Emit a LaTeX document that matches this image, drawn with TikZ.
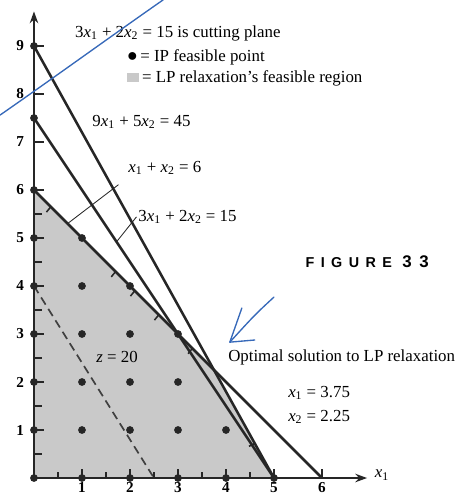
\documentclass[tikz,border=0pt]{standalone}
\usepackage{fontspec}
\setmainfont{Liberation Serif}
\setsansfont{Liberation Sans}
\usetikzlibrary{arrows.meta}
\definecolor{lpgris}{gray}{0.79}
\definecolor{azulmano}{RGB}{55,105,185}
\newcommand{\xv}[1]{\textit{x}\textsubscript{#1}}
\tikzset{
  recta/.style={line width=1.5pt, black!85},
  eje/.style={line width=1.2pt, black!85, -{Stealth[length=7pt,width=5pt]}},
  marca/.style={line width=0.9pt, black!85},
  punto/.style={fill=black!85},
  etiq/.style={font=\fontsize{10}{12}\selectfont, inner sep=0pt},
  numero/.style={font=\fontsize{9}{10}\selectfont\bfseries, inner sep=0pt},
  guia/.style={line width=0.5pt, black!85},
  mano/.style={azulmano, line width=0.8pt, line cap=round, line join=round},
}
\begin{document}
\begin{tikzpicture}
    \useasboundingbox (-0.708,-0.354) rectangle (8.896,9.958);
    % Region factible de la relajacion PL
    \fill[lpgris] (0,0) -- (0,6) -- (3.75,2.25) -- (5,0) -- cycle;
    \foreach \t in {0.35,1.7,2.1,2.6,3.3}
        \draw[marca] (\t,6-\t) -- ++(-0.09,-0.11);
    \draw[marca] (4.6,0.72) -- ++(-0.12,-0.06);
    % Recta z = 20
    \draw[black!75, line width=1pt, dash pattern=on 5pt off 3pt] (0,4) -- (2.5,0);
    \node[etiq] (zveinte) at (1.73,2.52) {\textit{z} = 20};
    % Ejes
    \draw[eje] (0,0) -- (0,9.72);
    \draw[eje] (0,0) -- (6.94,0);
    \node[etiq] (ejex) at (7.25,0.06) {\xv{1}};
    \foreach \y in {1,...,9}{
        \draw[marca] (0,\y) -- (0.2,\y);
        \node[numero, anchor=east] (ny\y) at (-0.2,\y) {\y};
    }
    \foreach \y in {0.5,1.5,...,5.5}
        \draw[marca] (0,\y) -- (0.17,\y);
    \foreach \x in {1,...,6}{
        \draw[marca] (\x,0) -- (\x,0.18);
        \node[numero] (nx\x) at (\x,-0.2) {\x};
    }
    \foreach \x in {0.5,1.5,...,4.5}
        \draw[marca] (\x,0) -- (\x,0.13);
    % Restricciones
    \draw[recta] (0,9) -- (5,0);
    \draw[recta] (0,7.5) -- (5,0);
    \draw[recta] (0,6) -- (6,0);
    % Puntos enteros factibles
    \foreach \p in {(0,0),(1,0),(2,0),(3,0),(4,0),(5,0),
                    (0,1),(0,2),(0,3),(0,4),(0,5),(0,6),(0,7.5),(0,9),
                    (1,1),(2,1),(3,1),(4,1),(1,2),(2,2),(3,2),
                    (1,3),(2,3),(3,3),(1,4),(2,4),(1,5)}
        \fill[punto] \p circle (2.3pt);
    % Etiquetas de las rectas
    \node[etiq, anchor=west] (l45) at (1.21,7.42) {9\xv{1} + 5\xv{2} = 45};
    \node[etiq, anchor=west] (l6) at (1.96,6.46) {\xv{1} + \xv{2} = 6};
    \node[etiq, anchor=west] (l15) at (2.17,5.44) {3\xv{1} + 2\xv{2} = 15};
    \coordinate (p6) at (0.70,5.30);
    \coordinate (p15) at (1.72,4.92);
    \draw[guia] (l6.south west) ++(-0.2,-0.2) -- (p6);
    \draw[guia] ([xshift=-1pt]l15.west) -- (p15);
    % Leyenda
    \node[etiq, anchor=west] (corte) at (0.85,9.27) {3\xv{1} + 2\xv{2} = 15 is cutting plane};
    \node[etiq, anchor=west] (leyip) at (1.94,8.77) {{\large$\bullet$}\,= IP feasible point};
    \node[etiq, anchor=west] (leylp) at (1.94,8.33) {{\color{lpgris}\rule{0.7em}{0.55em}}\,= LP relaxation's feasible region};
    % Solucion optima
    \node[etiq, anchor=west] (optimo) at (4.04,2.52) {Optimal solution to LP relaxation};
    \node[etiq, anchor=west] (solx1) at (5.29,1.77) {\xv{1} = 3.75};
    \node[etiq, anchor=west] (solx2) at (5.29,1.27) {\xv{2} = 2.25};
    \node[anchor=west, inner sep=0pt, font=\sffamily\bfseries\fontsize{8.5}{10}\selectfont\addfontfeature{LetterSpace=45}] (figura) at (5.65,4.5) {FIGURE {\fontsize{10}{11}\selectfont 33}};
    % Trazos a mano
    \draw[mano] (-0.708,7.56) .. controls (0.5,8.4) and (1.6,9.2) .. (2.69,9.96);
    \draw[mano] (5.0,3.77) .. controls (4.6,3.4) .. (4.08,2.83);
    \draw[mano] (4.33,3.54) -- (4.08,2.83) -- (4.6,2.875);
\end{tikzpicture}
\end{document}
